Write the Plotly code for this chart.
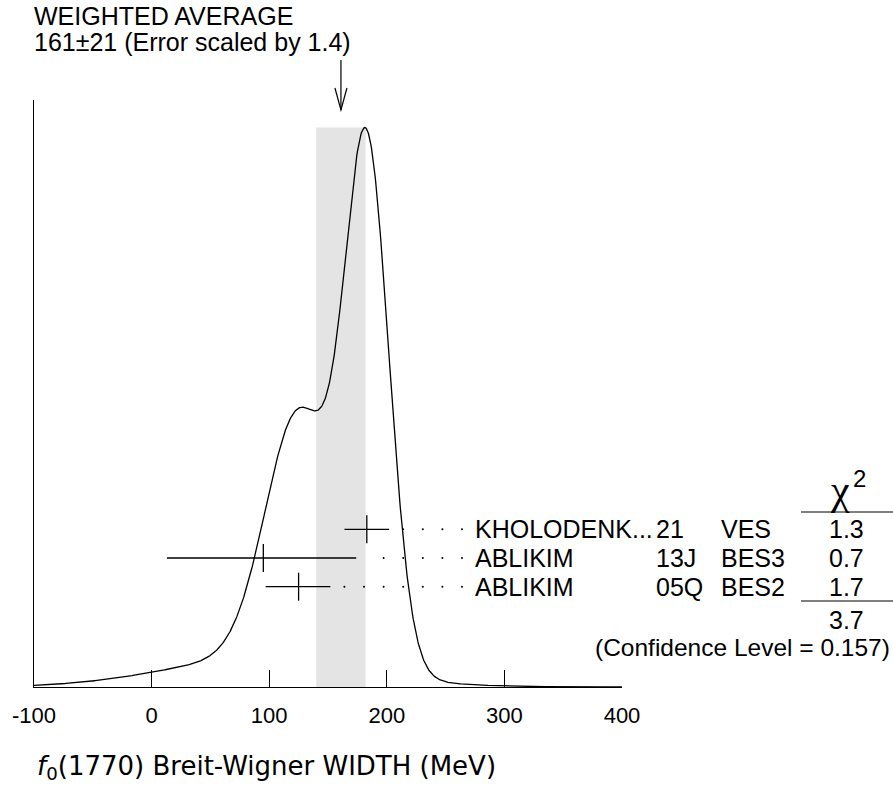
import numpy as np
import plotly.graph_objects as go

# ---------------- data ----------------
experiments = ["KHOLODENK...", "ABLIKIM", "ABLIKIM"]
years = ["21", "13J", "05Q"]
techniques = ["VES", "BES3", "BES2"]
values = [183, 95, 125]
err_plus = [19, 79, 27]
err_minus = [19, 82, 28]
chi2 = ["1.3", "0.7", "1.7"]
chi2_total = "3.7"
conf_level = "0.157"
avg_value = 161
avg_error = 21
scale_factor = 1.4
x_ticks = [-100, 0, 100, 200, 300, 400]
x_ticktext = ["-100", "0", "100", "200", "300", "400"]

# ---------------- layout geometry (pixels) ----------------
W, H = 893, 789
L, R = 34, 622          # x pixel of -100 and 400
TOP, BASE = 100, 687    # y pixel of axis top and baseline
XMIN, XMAX = -100, 400

def xp(px):   # pixel -> paper x
    return (px - L) / (R - L)

def yp(py):   # pixel -> paper y
    return (BASE - py) / (BASE - TOP)

def px2data(px):
    return XMIN + (px - L) / (R - L) * (XMAX - XMIN)

# ---------------- ideogram ----------------
xs = np.linspace(XMIN, XMAX, 1001)
ideo = np.zeros_like(xs)
for v, ep, em in zip(values, err_plus, err_minus):
    sig = np.where(xs < v, em, ep)
    s_mean = 0.5 * (ep + em)
    ideo += np.exp(-0.5 * ((xs - v) / sig) ** 2) / s_mean ** 2
peak = ideo.max()
ymax = peak / ((BASE - 127.5) / (BASE - TOP))

# rows on a secondary axis, 1 unit per row
row_px = [529.3, 558.3, 586.7]
row_unit = 28.7
n_rows = len(values)
rows = [n_rows - i for i in range(n_rows)]          # 3,2,1
y2_lo = 1 - (BASE - row_px[-1]) / row_unit
y2_hi = y2_lo + (BASE - TOP) / row_unit

fig = go.Figure()

# shaded band of weighted average
fig.add_shape(type="rect", xref="x", yref="y",
              x0=avg_value - avg_error, x1=avg_value + avg_error, y0=0, y1=peak,
              fillcolor="#e4e4e4", line=dict(width=0), layer="below")

# ideogram curve
fig.add_trace(go.Scatter(x=xs, y=ideo, mode="lines",
                         line=dict(color="black", width=1.3),
                         hoverinfo="skip", showlegend=False))

# dotted leaders
label_x_px = 473
dot_step_px = 19.6
last_dot_px = 462
dx, dy = [], []
for v, ep, r in zip(values, err_plus, rows):
    end_px = L + (v + ep - XMIN) / (XMAX - XMIN) * (R - L)
    p = last_dot_px
    while p > end_px + 10:
        dx.append(px2data(p))
        dy.append(r)
        p -= dot_step_px
fig.add_trace(go.Scatter(x=dx, y=dy, yaxis="y2", mode="markers",
                         marker=dict(symbol="circle", size=2, color="black"),
                         hoverinfo="skip", showlegend=False))

# measurements with error bars
fig.add_trace(go.Scatter(
    x=values, y=rows, yaxis="y2", mode="markers",
    marker=dict(symbol="line-ns", size=20, line=dict(color="black", width=1.3)),
    error_x=dict(type="data", symmetric=False, array=err_plus, arrayminus=err_minus,
                 width=0, thickness=1.3, color="black"),
    cliponaxis=False, hoverinfo="skip", showlegend=False))

FONT = "Liberation Sans, Arial, Helvetica, sans-serif"
fs = 25
def txt(x, y, text, anchor="left", yref="paper", size=fs, family=FONT, yanchor="middle"):
    return dict(x=x, y=y, xref="paper", yref=yref, text=text, xanchor=anchor,
                yanchor=yanchor, showarrow=False,
                font=dict(family=family, size=size, color="black"))

ann = []
for name, yr, tech, c, r in zip(experiments, years, techniques, chi2, rows):
    ann.append(txt(xp(label_x_px), r, name, yref="y2"))
    ann.append(txt(xp(654), r, yr, yref="y2"))
    ann.append(txt(xp(719), r, tech, yref="y2"))
    ann.append(txt(xp(846), r, c, anchor="center", yref="y2"))

# chi2 header (chi with a full-size raised 2), total, CL
ann.append(txt(xp(840), yp(490), "χ", anchor="center",
               size=42, family="Liberation Serif, DejaVu Serif, serif"))
ann.append(txt(xp(860), yp(478), "2", anchor="center", size=24))
ann.append(txt(xp(846), yp(620), chi2_total, anchor="center"))
ann.append(txt(xp(892), yp(647), f"(Confidence Level = {conf_level})", anchor="right",
               size=24.5))

# header
ann.append(txt(xp(32), yp(16), "WEIGHTED AVERAGE"))
ann.append(txt(xp(32), yp(42), f"{avg_value}±{avg_error} (Error scaled by {scale_factor})"))

# x-axis title
ann.append(txt(xp(35), yp(767), "<i>f</i><sub>0</sub>(1770) Breit-Wigner WIDTH (MeV)",
               size=26, family="DejaVu Sans, sans-serif"))

# chi2 rule lines
shapes = [
    dict(type="line", xref="paper", yref="paper", x0=xp(801), x1=xp(893),
         y0=yp(512), y1=yp(512), line=dict(color="black", width=1.2)),
    dict(type="line", xref="paper", yref="paper", x0=xp(801), x1=xp(893),
         y0=yp(601), y1=yp(601), line=dict(color="black", width=1.2)),
]
# arrow at weighted average
ax_tip = yp(110)
ax_top = yp(60)
hw = px2data(L + 6) - XMIN
hh = 22 / (BASE - TOP)
shapes.append(dict(type="line", xref="x", yref="paper", x0=avg_value, x1=avg_value,
                   y0=ax_top, y1=ax_tip, line=dict(color="black", width=1.2)))
shapes.append(dict(type="path", xref="x", yref="paper",
                   path=f"M {avg_value - hw},{ax_tip + hh} L {avg_value},{ax_tip} L {avg_value + hw},{ax_tip + hh}",
                   line=dict(color="black", width=1.2)))
for s in shapes:
    fig.add_shape(**s)

fig.update_layout(
    width=W, height=H,
    margin=dict(l=L, r=W - R, t=TOP, b=H - BASE, pad=0),
    paper_bgcolor="white", plot_bgcolor="white",
    showlegend=False,
    annotations=ann,
    xaxis=dict(range=[XMIN, XMAX], showline=True, linecolor="black", linewidth=1.2,
               ticks="inside", ticklen=17, tickwidth=1.2, tickcolor="black",
               tickvals=x_ticks, ticktext=x_ticktext, ticklabelstandoff=8,
               tickfont=dict(family=FONT, size=22, color="black"),
               showgrid=False, zeroline=False, fixedrange=True),
    yaxis=dict(range=[0, ymax], showline=True, linecolor="black", linewidth=1.2,
               showticklabels=False, ticks="", showgrid=False, zeroline=False,
               fixedrange=True),
    yaxis2=dict(range=[y2_lo, y2_hi], overlaying="y", visible=False, fixedrange=True),
)

fig.write_html("out.html", config={"displayModeBar": False},
               post_script="document.body.style.margin='0px';")
